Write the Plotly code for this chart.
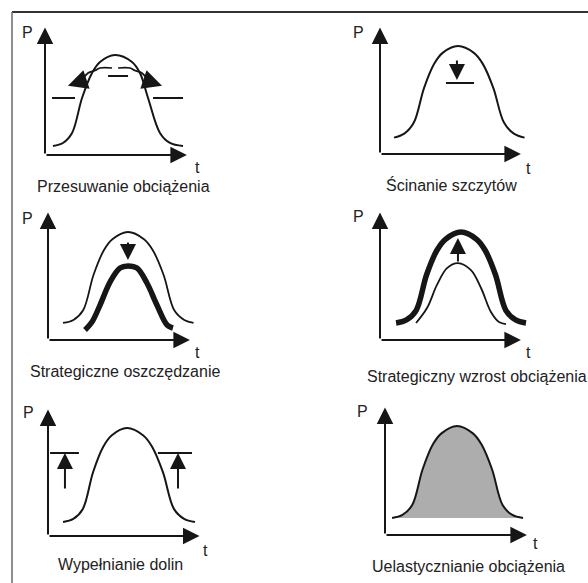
import plotly.graph_objects as go

W, H = 588, 583
INK = "#161616"
TXT = "#222222"
FONT = "Liberation Sans, Arial, sans-serif"

# ---------------- data (axis units: t and P, 0..100 = axis arrow tips) ----------------
# Panel 1: Przesuwanie obciążenia
p1_t = [5.4, 12.2, 18.4, 25.2, 32.0, 37.4, 47.6, 59.2, 64.6, 70.1, 78.2, 85.0, 93.9]
p1_P = [6.8, 9.1, 16.7, 43.2, 62.1, 70.5, 75.8, 70.5, 62.1, 43.2, 16.7, 9.1, 6.8]
p1_flatL_t = [24.5, 29.3, 34.0, 37.4, 45.6]
p1_flatL_P = [55.8, 62.1, 64.0, 65.9, 65.9]
p1_flatR_t = [49.7, 57.8, 61.2, 65.9, 70.7]
p1_flatR_P = [65.9, 65.9, 64.0, 62.1, 55.8]
p1_tipL = (15.6, 52.5)
p1_tipR = (79.6, 52.5)
p1_dash_t = [4.8, 20.4, None, 73.5, 93.9, None, 42.9, 56.5]
p1_dash_P = [43.2, 43.2, None, 43.2, 43.2, None, 59.8, 59.8]

# Panel 2: Ścinanie szczytów
p2_t = [9.6, 16.6, 23.2, 30.2, 37.2, 42.9, 53.4, 64.3, 70.3, 77.6, 84.9, 91.7, 99.0]
p2_P = [12.5, 15.5, 24.0, 50.5, 69.0, 77.2, 82.4, 77.2, 69.0, 50.5, 24.0, 15.5, 12.5]
p2_arrow = (52.7, 72.5, 52.7, 56.5)
p2_bar_t = [45.2, 64.4]
p2_bar_P = [54.2, 54.2]

# Panel 3: Strategiczne oszczędzanie
p3_thin_t = [10.2, 17.3, 23.9, 31.0, 38.0, 43.8, 54.4, 65.3, 71.3, 78.6, 85.9, 92.7, 99.0]
p3_thin_P = [12.9, 15.2, 22.5, 49.4, 68.0, 76.3, 81.8, 76.3, 68.0, 49.4, 22.5, 15.2, 12.9]
p3_thick_t = [25.2, 29.9, 35.4, 42.2, 49.0, 54.4, 60.5, 67.3, 74.1, 81.0, 85.0]
p3_thick_P = [7.6, 13.6, 26.5, 43.9, 54.5, 56.1, 54.5, 43.2, 26.5, 11.4, 9.1]
p3_arrow = (54.4, 75.0, 54.4, 60.6)

# Panel 4: Strategiczny wzrost obciążenia
p4_thick_t = [11.0, 18.1, 24.8, 31.9, 39.0, 44.8, 55.5, 66.2, 72.0, 79.1, 86.2, 92.9, 100.0]
p4_thick_P = [12.9, 15.2, 22.5, 49.4, 68.0, 76.3, 81.8, 76.3, 68.0, 49.4, 22.5, 15.2, 12.9]
p4_thin_t = [24.7, 32.2, 39.0, 45.9, 53.4, 62.3, 69.2, 76.0, 81.5, 86.3]
p4_thin_P = [12.9, 24.2, 41.7, 54.5, 58.3, 53.0, 39.4, 21.2, 13.6, 12.1]
p4_arrow = (53.4, 58.3, 53.4, 77.3)

# Panel 5: Wypełnianie dolin
p5_t = [9.6, 16.1, 22.2, 28.7, 35.2, 40.5, 50.3, 60.7, 66.3, 73.2, 80.2, 86.7, 93.6]
p5_P = [10.7, 13.1, 20.7, 48.7, 68.1, 76.7, 82.4, 76.7, 68.1, 48.7, 20.7, 13.1, 10.7]
p5_bar_t = [1.3, 19.7, None, 70.0, 91.7]
p5_bar_P = [63.4, 63.4, None, 63.4, 63.4]
p5_arrows = [(10.8, 35.1, 10.8, 63.4), (82.8, 35.1, 82.8, 63.4)]

# Panel 6: Uelastycznianie obciążenia
p6_t = [4.8, 11.9, 18.5, 25.6, 32.6, 38.4, 49.0, 59.8, 65.6, 72.8, 80.0, 86.6, 93.9]
p6_P = [12.9, 15.2, 22.7, 49.8, 68.7, 77.0, 82.6, 77.0, 68.7, 49.8, 22.7, 15.2, 12.9]

captions = ["Przesuwanie obciążenia", "Ścinanie szczytów", "Strategiczne oszczędzanie",
            "Strategiczny wzrost obciążenia", "Wypełnianie dolin", "Uelastycznianie obciążenia"]
axis_y_label = "P"
axis_x_label = "t"

# ---------------- layout geometry (pixels) ----------------
# origin x, origin y, px per unit in t, px per unit in P
panels = [
    dict(ox=45, oy=155, sx=1.47, sy=1.32, cap=(53.7, -24.2), pl=(-11.6, 93.0), tl=(103.4, -9.1)),
    dict(ox=380, oy=154, sx=1.46, sy=1.31, cap=(49.3, -23.7), pl=(-15.0, 93.0), tl=(102.0, -10.7)),
    dict(ox=48, oy=340, sx=1.47, sy=1.32, cap=(52.4, -24.2), pl=(-13.9, 92.4), tl=(102.0, -9.1)),
    dict(ox=380, oy=340, sx=1.46, sy=1.32, cap=(66.4, -28.0), pl=(-15.0, 93.2), tl=(102.0, -9.8)),
    dict(ox=48, oy=536, sx=1.57, sy=1.31, cap=(45.9, -21.4), pl=(-12.7, 93.9), tl=(100.0, -10.7)),
    dict(ox=385, oy=535, sx=1.47, sy=1.32, cap=(56.5, -24.2), pl=(-15.0, 93.2), tl=(102.7, -6.8)),
]
XR = (-25, 120)
YR = (-35, 110)

fig = go.Figure()
layout_axes = {}
annotations = []


def refs(i):
    return ("x" if i == 0 else f"x{i+1}"), ("y" if i == 0 else f"y{i+1}")


def add_line(i, t, P, width=2, dash=None, fill=None, fillcolor=None):
    xr, yr = refs(i)
    fig.add_trace(go.Scatter(
        x=t, y=P, xaxis=xr, yaxis=yr, mode="lines",
        line=dict(color=INK, width=width, shape="spline", smoothing=1.0, dash=dash),
        fill=fill, fillcolor=fillcolor, hoverinfo="skip", showlegend=False,
        connectgaps=False,
    ))


def add_arrow(i, x0, y0, x1, y1, width=2, size=1.4):
    xr, yr = refs(i)
    annotations.append(dict(
        x=x1, y=y1, ax=x0, ay=y0, xref=xr, yref=yr, axref=xr, ayref=yr,
        text="", showarrow=True, arrowhead=2, arrowsize=size, arrowwidth=width,
        arrowcolor=INK, standoff=0, startstandoff=0,
    ))


def add_text(i, pos, text, size=16):
    xr, yr = refs(i)
    annotations.append(dict(
        x=pos[0], y=pos[1], xref=xr, yref=yr, text=text, showarrow=False,
        xanchor="center", yanchor="middle", font=dict(family=FONT, size=size, color=TXT),
    ))


for i, p in enumerate(panels):
    x0 = (p["ox"] + XR[0] * p["sx"]) / W
    x1 = (p["ox"] + XR[1] * p["sx"]) / W
    yb = 1 - (p["oy"] - YR[0] * p["sy"]) / H
    yt = 1 - (p["oy"] - YR[1] * p["sy"]) / H
    xn = "xaxis" if i == 0 else f"xaxis{i+1}"
    yn = "yaxis" if i == 0 else f"yaxis{i+1}"
    xr, yr = refs(i)
    layout_axes[xn] = dict(domain=[x0, x1], range=list(XR), visible=False, anchor=yr, fixedrange=True)
    layout_axes[yn] = dict(domain=[yb, yt], range=list(YR), visible=False, anchor=xr, fixedrange=True)
    # axes arrows
    add_arrow(i, 0, 0, 0, 96.5, width=2, size=1.65)
    add_arrow(i, 0, 0, 96.5, 0, width=2, size=1.65)
    add_text(i, p["pl"], axis_y_label)
    add_text(i, p["tl"], axis_x_label)
    add_text(i, p["cap"], captions[i])

# panel 1
add_line(0, p1_t, p1_P)
add_line(0, p1_flatL_t, p1_flatL_P, width=1.7)
add_line(0, p1_flatR_t, p1_flatR_P, width=1.7)
add_line(0, p1_dash_t, p1_dash_P)
add_arrow(0, p1_flatL_t[0], p1_flatL_P[0], p1_tipL[0], p1_tipL[1], width=1.7, size=2.3)
add_arrow(0, p1_flatR_t[-1], p1_flatR_P[-1], p1_tipR[0], p1_tipR[1], width=1.7, size=2.3)

# panel 2
add_line(1, p2_t, p2_P)
add_line(1, p2_bar_t, p2_bar_P)
add_arrow(1, *p2_arrow, width=2, size=1.6)

# panel 3
add_line(2, p3_thin_t, p3_thin_P, width=1.8)
add_line(2, p3_thick_t, p3_thick_P, width=5.5)
add_arrow(2, *p3_arrow, width=2, size=1.6)

# panel 4
add_line(3, p4_thick_t, p4_thick_P, width=5.5)
add_line(3, p4_thin_t, p4_thin_P, width=1.8)
add_arrow(3, *p4_arrow, width=2, size=1.6)

# panel 5
add_line(4, p5_t, p5_P)
add_line(4, p5_bar_t, p5_bar_P)
for a in p5_arrows:
    add_arrow(4, *a, width=2, size=1.6)

# panel 6
add_line(5, p6_t, p6_P, fill="toself", fillcolor="#adadad")

frame = [
    dict(type="line", xref="paper", yref="paper", x0=12 / W, x1=1, y0=1 - 12 / H, y1=1 - 12 / H,
         line=dict(color="#333333", width=2)),
    dict(type="line", xref="paper", yref="paper", x0=12 / W, x1=12 / W, y0=1 - 12 / H, y1=0,
         line=dict(color="#6a6a6a", width=1.5)),
]

fig.update_layout(
    width=W, height=H, margin=dict(l=0, r=0, t=0, b=0),
    paper_bgcolor="white", plot_bgcolor="rgba(0,0,0,0)",
    showlegend=False, annotations=annotations, shapes=frame,
    **layout_axes,
)
fig.write_html(
    "out.html",
    config={"displayModeBar": False},
    post_script="document.body.style.margin='0';document.body.style.overflow='hidden';",
)
